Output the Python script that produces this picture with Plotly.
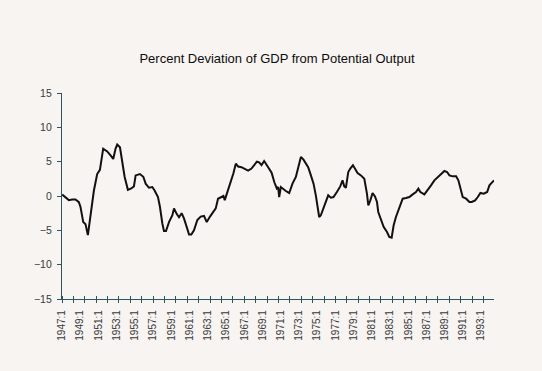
import plotly.graph_objects as go

# Decimal year positions of points traced along the curve, and percent deviation values
years = [
    1947.02, 1947.38, 1947.75, 1948.12, 1948.48, 1948.85, 1949.03, 1949.33, 1949.58, 1949.84,
    1950.13, 1950.50, 1950.86, 1951.16, 1951.52, 1951.96, 1952.33, 1952.62, 1952.88, 1953.06,
    1953.36, 1953.61, 1953.87, 1954.23, 1954.60, 1954.89, 1955.08, 1955.55, 1955.92, 1956.18,
    1956.54, 1956.91, 1957.16, 1957.53, 1957.75, 1958.01, 1958.19, 1958.41, 1958.74, 1959.11,
    1959.29, 1959.58, 1959.84, 1960.13, 1960.39, 1960.68, 1960.94, 1961.19, 1961.48, 1961.85,
    1962.22, 1962.58, 1962.88, 1963.24, 1963.61, 1963.87, 1964.12, 1964.42, 1964.71, 1964.86,
    1965.15, 1965.52, 1965.81, 1966.07, 1966.32, 1966.69, 1967.06, 1967.42, 1967.79, 1968.08,
    1968.38, 1968.63, 1968.89, 1969.18, 1969.47, 1969.73, 1970.00, 1970.30, 1970.57, 1970.72,
    1970.83, 1971.01, 1971.19, 1971.56, 1971.93, 1972.29, 1972.66, 1972.91, 1973.21, 1973.50,
    1973.75, 1974.01, 1974.31, 1974.60, 1974.85, 1975.03, 1975.22, 1975.40, 1975.70, 1975.95,
    1976.21, 1976.50, 1976.79, 1977.16, 1977.53, 1977.78, 1977.97, 1978.15, 1978.41, 1978.63,
    1978.92, 1979.14, 1979.43, 1979.80, 1980.17, 1980.46, 1980.61, 1980.83, 1981.08, 1981.34,
    1981.56, 1981.70, 1982.00, 1982.29, 1982.66, 1982.91, 1983.17, 1983.39, 1983.64, 1984.01,
    1984.38, 1984.74, 1985.11, 1985.48, 1985.84, 1986.10, 1986.32, 1986.76, 1987.13, 1987.49,
    1987.86, 1988.23, 1988.59, 1988.96, 1989.25, 1989.51, 1989.87, 1990.24, 1990.49, 1990.71,
    1990.97, 1991.34, 1991.70, 1991.96, 1992.33, 1992.62, 1992.91, 1993.28, 1993.65, 1993.90,
    1994.40,
]
gap_pct = [
    0.2, -0.25, -0.6, -0.5, -0.5, -0.9, -1.6, -3.8, -4.1, -5.7,
    -2.6, 0.8, 3.2, 3.8, 6.9, 6.5, 5.9, 5.4, 6.9, 7.5,
    7.1, 5.2, 2.8, 0.9, 1.1, 1.4, 3.0, 3.2, 2.8, 1.8,
    1.2, 1.3, 0.8, -0.15, -1.6, -4.0, -5.1, -5.1, -3.8, -2.8,
    -1.8, -2.6, -3.1, -2.5, -3.3, -4.5, -5.6, -5.6, -5.0, -3.5,
    -3.0, -2.9, -3.8, -3.0, -2.3, -1.8, -0.4, -0.25, 0.0, -0.6,
    0.6, 1.8, 3.3, 4.7, 4.3, 4.2, 4.0, 3.7, 4.0, 4.5,
    5.0, 4.9, 4.5, 5.1, 4.5, 4.1, 3.4, 2.0, 1.1, 1.3,
    -0.15, 1.3, 1.07, 0.73, 0.44, 1.8, 2.77, 4.0, 5.68, 5.3,
    4.7, 4.2, 3.0, 1.8, 0.1, -1.6, -3.06, -2.8, -1.6, -0.87,
    0.1, -0.24, -0.15, 0.58, 1.4, 2.28, 1.4, 1.2, 3.5, 4.0,
    4.47, 4.0, 3.35, 3.0, 2.5, 0.34, -1.36, -0.63, 0.44, -0.05,
    -0.87, -2.33, -3.54, -4.5, -5.24, -5.97, -6.07, -4.27, -3.06, -1.6,
    -0.39, -0.29, -0.15, 0.24, 0.58, 1.07, 0.58, 0.24, 0.83, 1.55,
    2.28, 2.77, 3.25, 3.64, 3.5, 3.0, 2.86, 2.86, 2.28, 1.07,
    -0.15, -0.39, -0.87, -0.87, -0.63, -0.15, 0.44, 0.34, 0.58, 1.55,
    2.28,
]

label_years = list(range(1947, 1994, 2))
tick_labels = [f"{y}:1" for y in label_years]
y_ticks = [-15, -10, -5, 0, 5, 10, 15]

title_text = "Percent Deviation of GDP from Potential Output"

BG = "#f7f4f1"
AXIS = "#2c5560"
TXT = "#3a3a3a"
XR = [1947, 1994.4]

fig = go.Figure()
fig.add_trace(go.Scatter(
    x=years, y=gap_pct, mode="lines",
    line=dict(color="#111111", width=2),
    showlegend=False, hoverinfo="skip",
))
# dummy trace to carry the overlay axis with the outward half of the crossing ticks
fig.add_trace(go.Scatter(
    x=[XR[0]], y=[0], xaxis="x2", mode="lines",
    line=dict(color="rgba(0,0,0,0)"), showlegend=False, hoverinfo="skip",
))

fig.update_layout(
    width=542, height=371,
    margin=dict(l=62, r=48, t=93, b=72),
    paper_bgcolor=BG, plot_bgcolor=BG,
    font=dict(family="Liberation Sans, Arial, sans-serif", color=TXT, size=10),
    title=dict(
        text=title_text, x=277 / 542, xanchor="center",
        y=1 - 58 / 371, yanchor="middle",
        font=dict(family="Liberation Sans, Arial, sans-serif", size=13, color="#0d0d0d"),
    ),
    xaxis=dict(
        range=XR, tickmode="array", tickvals=label_years, ticktext=tick_labels,
        tickangle=-90, ticks="", showgrid=False, zeroline=False,
        showline=True, linecolor=AXIS, linewidth=1.3,
        ticklabelstandoff=6,
        tickfont=dict(size=10, color=TXT),
        minor=dict(tickmode="linear", tick0=1947, dtick=1.25, ticks="inside",
                   ticklen=3, tickcolor=AXIS, tickwidth=1, showgrid=False),
    ),
    xaxis2=dict(
        range=XR, overlaying="x", anchor="y", side="bottom",
        tickmode="linear", tick0=1947, dtick=1.25, ticks="outside",
        ticklen=3, tickcolor=AXIS, tickwidth=1,
        showticklabels=False, showgrid=False, zeroline=False, showline=False,
    ),
    yaxis=dict(
        range=[-15, 15], tickmode="array", tickvals=y_ticks,
        ticks="outside", ticklen=4, tickcolor=AXIS, tickwidth=1,
        showgrid=False, zeroline=False,
        showline=True, linecolor=AXIS, linewidth=1.3,
        tickfont=dict(size=10.5, color=TXT),
        ticklabelstandoff=3,
    ),
)

fig.write_html(
    "out.html",
    config={"displayModeBar": False},
    post_script="document.body.style.margin='0';document.body.style.background='%s';" % BG,
)
